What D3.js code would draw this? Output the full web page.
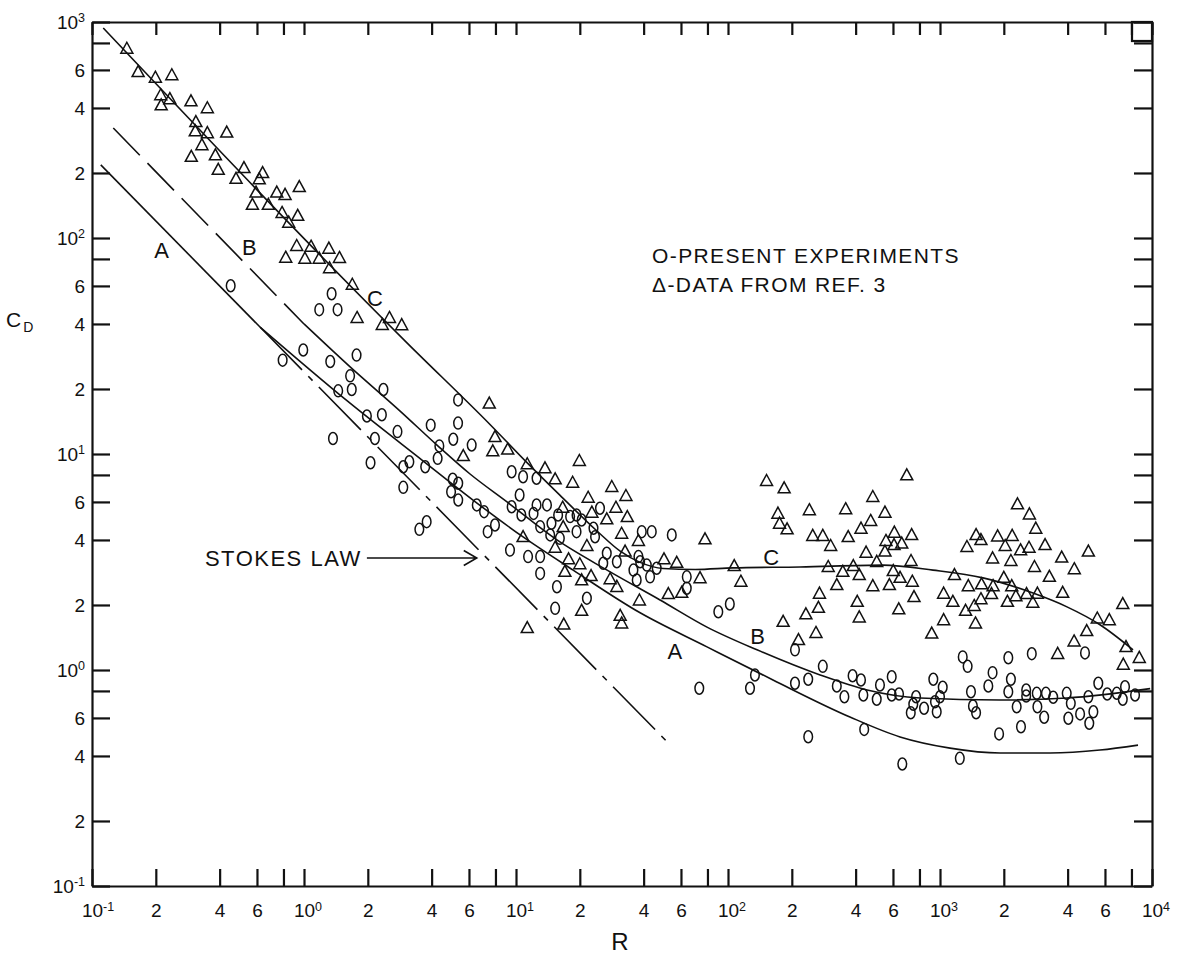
<!DOCTYPE html>
<html>
<head>
<meta charset="utf-8">
<script src="https://cdn.jsdelivr.net/npm/d3@7"></script>
<style>
  body { margin: 0; background: #fff; }
  svg text { font-family: "Liberation Sans", Arial, sans-serif; fill: #111; }
</style>
</head>
<body>
<script>

var width = 1181, height = 955;
var margin = {top: 22, right: 29, bottom: 69, left: 92};
var w = width - margin.left - margin.right,
    h = height - margin.top - margin.bottom;
var ink = "#111";

// tick positions (labels: 10^n at decades, 2/4/6 in between, 8 unlabeled)
var xTicks = [0.1, 0.2, 0.4, 0.6, 0.8, 1, 2, 4, 6, 8, 10, 20, 40, 60, 80,
              100, 200, 400, 600, 800, 1000, 2000, 4000, 6000, 8000, 10000];
var yTicks = [0.1, 0.2, 0.4, 0.6, 0.8, 1, 2, 4, 6, 8, 10, 20, 40, 60, 80,
              100, 200, 400, 600, 800, 1000];

// curves [R, CD]
var stokesSolid = [[0.11, 218], [0.62, 38.7]];
var stokesDash = [[0.62, 38.7], [53, 0.453]];
var curveA = [[0.62, 38.7], [1.6, 17.6], [3.64, 9.3], [6.27, 6.12], [10.8, 4.13],
              [18.6, 2.90], [38.5, 1.84], [79.6, 1.28], [163, 0.899], [376, 0.606], [648, 0.49],
              [1115, 0.435], [1919, 0.413], [3303, 0.413], [5685, 0.426], [8590, 0.449]];
var curveBdash = [[0.126, 323], [1.0, 40]];
var curveB = [[1.0, 40], [1.65, 25.3], [2.84, 15.8], [4.24, 11.0], [6.07, 8.08], [9.07, 6.0],
              [15.6, 4.0], [26.9, 2.90], [47.8, 2.11], [79.6, 1.58], [137, 1.24], [272, 0.948],
              [453, 0.808], [805, 0.742], [1919, 0.726], [3972, 0.742], [9800, 0.82]];
var curveC = [[0.113, 938], [3.06, 32.7], [7.54, 13.7], [11.3, 9.1], [16.1, 6.45], [24.1, 4.4],
              [31, 3.55], [38.5, 3.15], [49.4, 2.95], [70, 2.92], [105.6, 2.97], [218.6, 3.00],
              [538, 3.06], [927, 2.90], [1595, 2.67], [2746, 2.27], [3972, 1.96], [5685, 1.62],
              [8138, 1.24]];

// present experiments (circles)
var present = [
  [0.451, 60.1], [1.35, 55.2], [1.18, 46.6], [1.44, 46.6],
  [0.793, 27.2], [0.992, 30.3], [1.33, 26.8], [1.77, 28.7], [1.65, 23.0], [1.45, 19.6], [1.68, 19.9],
  [2.37, 19.9], [5.33, 17.8], [1.98, 15.0], [2.33, 15.2], [3.96, 13.6], [5.33, 13.9], [2.76, 12.7],
  [1.37, 11.8], [2.16, 11.8], [5.06, 11.7], [6.18, 11.0], [4.35, 10.9], [4.27, 9.55], [2.06, 9.11],
  [3.14, 9.21], [2.94, 8.73], [3.73, 8.73], [5.03, 7.64], [5.34, 7.32], [2.94, 7.01], [4.94, 6.69],
  [5.34, 6.12], [6.53, 5.81], [7.07, 5.41], [3.79, 4.86], [3.50, 4.48], [7.35, 4.37],
  [7.96, 4.69], [9.54, 8.28], [10.8, 7.85], [12.5, 7.72], [10.4, 6.46], [9.54, 5.70], [10.6, 5.22],
  [12.1, 5.31], [12.5, 5.81], [14.0, 5.81], [13.0, 4.61], [14.7, 4.78], [15.8, 5.22], [14.5, 4.22],
  [16.1, 4.07], [18.0, 5.13], [19.3, 5.22], [20.4, 4.95], [19.3, 4.37], [23.2, 4.53], [23.6, 4.14],
  [24.9, 5.61], [9.37, 3.59], [11.4, 3.35], [13.0, 3.35], [13.0, 2.80], [15.6, 2.43], [15.3, 1.93],
  [21.6, 2.15], [26.8, 3.47], [25.8, 3.12], [29.9, 3.17], [37.8, 3.35], [39.2, 4.37], [43.7, 4.37],
  [35.8, 2.90], [37.1, 2.61], [38.5, 3.17], [41.4, 3.06], [42.9, 2.70], [46.1, 2.96], [54.3, 4.22],
  [63.9, 2.70], [63.9, 2.39], [90.0, 1.86], [102, 2.02], [134, 0.948], [127, 0.823], [73.2, 0.823],
  [207, 0.868], [239, 0.906], [207, 1.24], [239, 0.491],
  [280, 1.04], [326, 0.843], [354, 0.752], [387, 0.941], [424, 0.899], [435, 0.766], [503, 0.732],
  [521, 0.852], [439, 0.531], [592, 0.931], [592, 0.766], [641, 0.774], [664, 0.367], [771, 0.752],
  [748, 0.694], [728, 0.634], [841, 0.665], [930, 0.906], [1030, 0.832], [1000, 0.752], [947, 0.713],
  [965, 0.641], [1280, 1.15], [1350, 1.04], [1400, 0.793], [1430, 0.681], [1480, 0.634], [1240, 0.390],
  [1770, 0.972], [1690, 0.843], [2100, 1.14], [2160, 0.906], [2100, 0.793], [2300, 0.676], [1900, 0.506],
  [2410, 0.546], [2710, 1.19], [2550, 0.808], [2550, 0.758], [2860, 0.780], [2880, 0.676], [3100, 0.604],
  [3160, 0.780], [3420, 0.748], [3960, 0.780], [4140, 0.701], [4030, 0.598], [4580, 0.626], [5010, 0.752],
  [5060, 0.567], [5290, 0.641], [4830, 1.20], [5580, 0.868], [6150, 0.774], [6820, 0.780], [7460, 0.837],
  [7280, 0.732], [8320, 0.766]
];

// data from ref. 3 (triangles)
var ref3 = [
  [0.146, 760], [0.165, 593], [0.199, 558], [0.238, 573], [0.211, 463], [0.233, 444], [0.212, 416],
  [0.293, 434], [0.350, 403], [0.309, 348], [0.307, 315], [0.350, 309], [0.432, 311], [0.330, 272],
  [0.294, 240], [0.382, 244], [0.394, 209], [0.521, 213], [0.478, 190], [0.638, 202], [0.615, 189],
  [0.950, 174], [0.594, 164], [0.744, 164], [0.814, 160], [0.571, 144], [0.679, 144], [0.788, 132],
  [0.934, 128], [0.847, 119], [0.924, 92.8], [1.08, 92.1], [1.31, 90.2], [0.820, 81.9], [1.01, 81.1],
  [1.18, 81.1], [1.47, 81.7], [1.32, 73.2], [1.69, 61.4], [1.78, 43.1], [2.34, 40.0], [2.53, 43.1],
  [2.89, 39.9], [5.64, 9.89],
  [7.48, 17.3], [7.96, 12.1], [7.77, 10.4], [9.14, 10.6], [11.3, 9.06], [13.7, 8.68], [15.3, 7.72],
  [18.5, 7.44], [19.9, 9.38], [28.3, 7.11], [33.0, 6.46], [21.9, 6.34], [16.6, 5.70], [22.8, 5.41],
  [29.6, 5.70], [26.8, 5.04], [33.5, 5.16], [31.5, 4.32], [16.7, 4.64], [10.8, 4.17], [21.6, 3.79],
  [15.3, 3.72], [32.7, 3.57], [37.8, 4.00], [17.7, 3.29], [20.0, 3.12], [17.0, 2.88], [20.4, 2.63],
  [22.6, 2.75], [27.8, 2.66], [29.9, 2.45], [49.9, 3.29], [57.3, 3.17], [73.8, 2.69], [52.3, 2.27],
  [60.5, 2.30], [38.2, 2.12], [77.9, 4.07], [107, 3.06], [115, 2.59], [20.4, 1.90], [16.8, 1.64],
  [11.3, 1.58], [31.0, 1.80], [31.5, 1.66], [152, 7.58], [184, 7.01], [172, 5.35], [175, 4.81],
  [190, 4.53], [242, 5.55], [182, 1.69], [215, 1.39], [233, 1.83],
  [359, 5.61], [482, 6.39], [697, 8.05], [550, 5.41], [471, 4.95], [424, 4.56], [251, 4.22],
  [280, 4.22], [305, 3.79], [369, 4.17], [556, 4.00], [609, 4.37], [735, 4.26], [607, 3.83],
  [660, 3.89], [448, 3.53], [550, 3.57], [503, 3.20], [730, 3.23], [297, 3.03], [390, 3.06],
  [348, 2.88], [416, 2.78], [602, 2.90], [648, 2.70], [740, 2.59], [326, 2.50], [482, 2.47],
  [577, 2.50], [270, 2.28], [754, 2.20], [407, 2.09], [267, 1.96], [639, 1.93], [416, 1.77],
  [260, 1.50], [914, 1.49], [1040, 1.72], [1040, 2.28], [1150, 2.09], [1170, 2.78], [1320, 1.90],
  [1450, 2.00], [1470, 1.66], [1360, 2.47], [1570, 2.52], [1560, 2.15], [1750, 2.27], [1780, 2.47],
  [1340, 3.75], [1480, 4.26], [1560, 4.04], [1770, 3.32], [1870, 4.20], [2030, 3.79], [2190, 4.22],
  [2160, 3.23], [2000, 2.70], [2180, 2.47], [2080, 2.09], [2280, 2.22], [2400, 3.62], [2320, 5.91],
  [2640, 5.31], [2830, 4.56], [2630, 3.72], [3130, 3.83], [2790, 3.03], [2560, 2.27], [2740, 2.07],
  [2880, 2.28], [3280, 2.73], [3750, 3.35], [4300, 2.96], [5010, 3.57], [3790, 2.30], [5520, 1.75],
  [6290, 1.72], [7280, 2.04], [4920, 1.53], [4290, 1.37], [3590, 1.20], [7540, 1.29], [7320, 1.07],
  [8710, 1.15]
];

// curve labels [text, R, CD]
var curveLabels = [["A", 0.213, 88], ["B", 0.552, 90.6], ["C", 2.16, 52.6],
                   ["C", 160, 3.35], ["B", 138, 1.43], ["A", 56.2, 1.22]];

var legendLines = ["O-PRESENT EXPERIMENTS", "\u0394-DATA FROM REF. 3"];


var svg = d3.select("body").append("svg")
    .attr("width", width)
    .attr("height", height);

var canvas = svg.append("g")
    .attr("transform", "translate(" + margin.left + "," + margin.top + ")");

var x = d3.scaleLog().domain([0.1, 1e4]).range([0, w]);
var y = d3.scaleLog().domain([0.1, 1e3]).range([h, 0]);

// 10^n with superscript, 2/4/6 as digits, 8 left blank
// on the x axis the "10" sits centred on the tick and the exponent hangs to the right
function labelTicks(sel, shiftSup) {
  sel.selectAll(".tick text")
    .attr("font-size", 19)
    .attr("font-family", "Liberation Sans, Arial, sans-serif")
    .attr("fill", ink)
    .each(function(d) {
      var t = d3.select(this), e = Math.log10(d), k = Math.round(e);
      t.text(null);
      if (Math.abs(e - k) < 1e-6) {
        t.append("tspan").text("10");
        var sup = t.append("tspan").attr("font-size", "12.5px").attr("dy", "-0.55em").text(k);
        if (shiftSup) t.attr("dx", sup.node().getComputedTextLength() / 2);
      } else {
        var m = Math.round(d / Math.pow(10, Math.floor(e + 1e-9)));
        if (m != 8) t.text(m);
      }
    });
}

canvas.append("g")
    .attr("transform", "translate(0," + h + ")")
    .call(d3.axisBottom(x).tickValues(xTicks).tickSize(-17).tickSizeOuter(0).tickPadding(18))
    .call(labelTicks, true);

canvas.append("g")
    .call(d3.axisTop(x).tickValues(xTicks).tickSize(-13).tickSizeOuter(0).tickFormat(""));

canvas.append("g")
    .call(d3.axisLeft(y).tickValues(yTicks).tickSize(-18).tickSizeOuter(0).tickPadding(7))
    .call(labelTicks, false);

canvas.append("g")
    .attr("transform", "translate(" + w + ",0)")
    .call(d3.axisRight(y).tickValues(yTicks).tickSize(-18).tickSizeOuter(0).tickFormat(""));

canvas.selectAll(".domain, .tick line")
    .attr("stroke", ink)
    .attr("stroke-width", 2.2);

// little box in the top right corner
canvas.append("rect")
    .attr("x", w - 20).attr("y", 0)
    .attr("width", 20).attr("height", 19)
    .attr("fill", "none").attr("stroke", ink).attr("stroke-width", 2.2);

// curves
var line = d3.line()
    .x(function(d) { return x(d[0]); })
    .y(function(d) { return y(d[1]); })
    .curve(d3.curveMonotoneX);

function drawCurve(data, dash) {
  canvas.append("path")
      .datum(data)
      .attr("d", line)
      .attr("fill", "none")
      .attr("stroke", ink)
      .attr("stroke-width", 1.6)
      .style("stroke-dasharray", dash || null);
}
drawCurve(stokesSolid);
drawCurve(stokesDash, "60,9,6,9");
drawCurve(curveA);
drawCurve(curveBdash, "38,11");
drawCurve(curveB);
drawCurve(curveC);

// markers
canvas.selectAll(".tri")
    .data(ref3)
    .enter().append("path")
      .attr("class", "tri")
      .attr("d", "M0,-5.5L6,5.5L-6,5.5Z")
      .attr("transform", function(d) { return "translate(" + x(d[0]) + "," + y(d[1]) + ")"; })
      .attr("fill", "none")
      .attr("stroke", ink)
      .attr("stroke-width", 1.5);

canvas.selectAll(".circ")
    .data(present)
    .enter().append("ellipse")
      .attr("class", "circ")
      .attr("cx", function(d) { return x(d[0]); })
      .attr("cy", function(d) { return y(d[1]); })
      .attr("rx", 4.3)
      .attr("ry", 6)
      .attr("fill", "none")
      .attr("stroke", ink)
      .attr("stroke-width", 1.5);

// curve labels
canvas.selectAll(".clabel")
    .data(curveLabels)
    .enter().append("text")
      .attr("class", "clabel")
      .attr("x", function(d) { return x(d[1]); })
      .attr("y", function(d) { return y(d[2]); })
      .attr("dy", "0.36em")
      .attr("text-anchor", "middle")
      .attr("font-size", 22)
      .text(function(d) { return d[0]; });

// stokes law note + arrow
canvas.append("text")
    .attr("x", x(0.341)).attr("y", y(3.3))
    .attr("dy", "0.36em")
    .attr("font-size", 22)
    .style("letter-spacing", "1.5px")
    .text("STOKES LAW");

var ax0 = x(1.98), ax1 = x(6.53), ay = y(3.3);
canvas.append("path")
    .attr("d", "M" + ax0 + "," + ay + "H" + ax1 +
               "M" + (ax1 - 13) + "," + (ay - 7.5) + "L" + ax1 + "," + ay + "L" + (ax1 - 13) + "," + (ay + 7.5))
    .attr("fill", "none")
    .attr("stroke", ink)
    .attr("stroke-width", 1.6);

// legend
canvas.selectAll(".legend")
    .data(legendLines)
    .enter().append("text")
      .attr("class", "legend")
      .attr("x", 560)
      .attr("y", function(d, i) { return 241 + i * 29; })
      .attr("font-size", 21)
      .style("letter-spacing", "1.4px")
      .text(function(d) { return d; });

// axis titles
svg.append("text")
    .attr("x", 620).attr("y", 950)
    .attr("text-anchor", "middle")
    .attr("font-size", 24)
    .text("R");

var cd = svg.append("text")
    .attr("x", 6).attr("y", 327)
    .attr("font-size", 21);
cd.append("tspan").text("C");
cd.append("tspan").attr("font-size", 14).attr("dx", 2).attr("dy", 5).text("D");

</script>
</body>
</html>
